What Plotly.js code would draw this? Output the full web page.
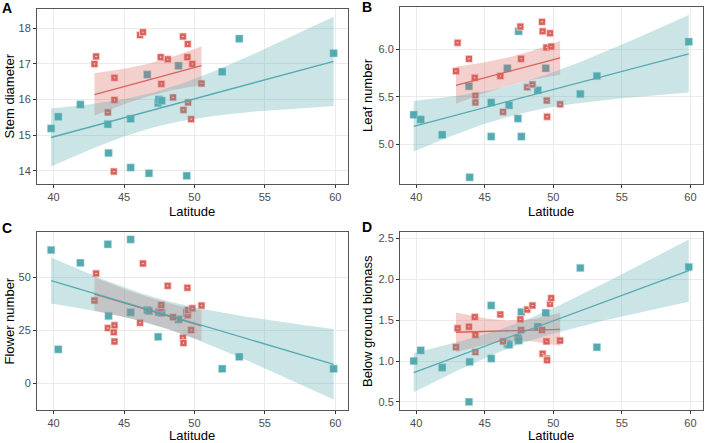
<!DOCTYPE html>
<html><head><meta charset="utf-8">
<script src="https://cdn.plot.ly/plotly-3.0.1.min.js"></script>
<style>html,body{margin:0;padding:0;background:#fff}#chart{width:708px;height:443px}</style>
</head><body><div id="chart"></div>
<script>
// ---- data ----
const tealLat = [39.82, 40.33, 41.90, 43.85, 43.90, 45.47, 45.47, 46.65, 46.77, 47.42, 47.47, 47.67, 48.87, 49.45, 51.97, 53.18, 59.88];
const tealStem = [15.19, 15.52, 15.86, 15.31, 14.50, 15.46, 14.09, 16.70, 13.93, 15.90, 16.00, 15.97, 16.95, 13.86, 16.78, 17.71, 17.30];
const tealLeaf = [5.31, 5.26, 5.10, 5.61, 4.65, 5.44, 5.08, 5.80, 5.41, 5.27, 6.19, 5.08, 5.57, 5.80, 5.53, 5.72, 6.08];
const tealFlower = [62.7, 16.0, 56.7, 65.4, 31.7, 67.7, 33.4, 34.5, 34.1, 21.9, 33.5, 33.2, 30.1, 33.2, 6.9, 12.5, 6.9];
const tealBiomass = [1.00, 1.13, 0.92, 0.50, 0.99, 1.68, 1.03, 1.21, 1.20, 1.28, 1.25, 1.60, 1.42, 1.59, 2.14, 1.17, 2.15];

const redLat = [42.90, 43.02, 43.85, 44.27, 44.32, 44.32, 46.14, 46.34, 47.60, 47.65, 48.10, 48.48, 49.18, 49.22, 49.50, 49.52, 49.55, 49.77, 49.85, 50.50];
const redStem = [17.00, 17.21, 15.64, 13.98, 16.61, 15.99, 17.81, 17.89, 17.19, 16.44, 17.13, 16.06, 17.77, 15.71, 17.19, 17.56, 15.92, 15.45, 17.00, 16.45];
const redLeaf = [5.77, 6.07, 5.90, 5.70, 5.51, 5.44, 5.72, 5.34, 6.24, 5.90, 5.60, 5.63, 6.29, 6.19, 6.02, 5.46, 5.29, 6.17, 6.03, 5.42];
const redFlower = [39.0, 51.7, 26.0, 24.1, 27.3, 19.7, 28.5, 56.4, 35.3, 36.9, 45.9, 31.1, 21.5, 19.0, 45.0, 32.1, 34.5, 25.1, 35.3, 36.6];
const redBiomass = [1.17, 1.40, 1.42, 1.54, 1.32, 1.11, 1.57, 1.24, 1.51, 1.38, 1.63, 1.68, 1.38, 1.09, 1.24, 1.03, 1.01, 1.70, 1.77, 1.25];

const panelLetters = ['A', 'B', 'C', 'D'];
const yTitles = ['Stem diameter', 'Leaf number', 'Flower number', 'Below ground biomass'];
const xTitle = 'Latitude';
const xTickVals = [40, 45, 50, 55, 60];
const yTickValsA = [14, 15, 16, 17, 18];
const yTickValsB = [5.0, 5.5, 6.0];
const yTickValsC = [0, 25, 50];
const yTickValsD = [0.5, 1.0, 1.5, 2.0, 2.5];
// model per panel: common slope (additive) for A-C, separate slopes for D
const panelModels = ['additive', 'additive', 'additive', 'interaction'];

// ---- styling ----
const TEAL = 'rgb(84,170,176)';
const RED = 'rgb(216,98,92)';
const TEAL_FILL = 'rgba(84,170,176,0.3)';
const RED_FILL = 'rgba(216,98,92,0.3)';
const FONT = 'Liberation Sans, Arial, Helvetica, sans-serif';
const tTable = {33: 2.0345, 34: 2.0322}; // 97.5% t quantiles

function invert(M) {
  const n = M.length;
  const A = M.map((r, i) => r.concat(Array.from({length: n}, (_, j) => (i === j ? 1 : 0))));
  for (let c = 0; c < n; c++) {
    let piv = c;
    for (let r = c + 1; r < n; r++) if (Math.abs(A[r][c]) > Math.abs(A[piv][c])) piv = r;
    [A[c], A[piv]] = [A[piv], A[c]];
    const d = A[c][c];
    for (let j = 0; j < 2 * n; j++) A[c][j] /= d;
    for (let r = 0; r < n; r++) if (r !== c) {
      const f = A[r][c];
      for (let j = 0; j < 2 * n; j++) A[r][j] -= f * A[c][j];
    }
  }
  return A.map(r => r.slice(n));
}

function fitModel(tx, ty, rx, ry, kind) {
  const row = (x, g) => kind === 'interaction' ? [1, g, x, g * x] : [1, g, x];
  const X = [], Y = [];
  tx.forEach((x, i) => { X.push(row(x, 0)); Y.push(ty[i]); });
  rx.forEach((x, i) => { X.push(row(x, 1)); Y.push(ry[i]); });
  const p = X[0].length, n = X.length;
  const XtX = Array.from({length: p}, (_, i) => Array.from({length: p}, (_, j) => X.reduce((s, r) => s + r[i] * r[j], 0)));
  const XtY = Array.from({length: p}, (_, i) => X.reduce((s, r, k) => s + r[i] * Y[k], 0));
  const inv = invert(XtX);
  const beta = inv.map(r => r.reduce((s, v, j) => s + v * XtY[j], 0));
  let sse = 0;
  X.forEach((r, k) => { const f = r.reduce((s, v, j) => s + v * beta[j], 0); sse += (Y[k] - f) ** 2; });
  const s2 = sse / (n - p);
  const t = tTable[n - p] || 2.03;
  const band = (gx, g) => {
    const xmin = Math.min(...gx), xmax = Math.max(...gx);
    const xs = [], fit = [], lo = [], hi = [];
    for (let k = 0; k < 80; k++) {
      const xv = xmin + (xmax - xmin) * k / 79;
      const x0 = row(xv, g);
      const f = x0.reduce((s, v, j) => s + v * beta[j], 0);
      let q = 0;
      for (let i = 0; i < p; i++) for (let j = 0; j < p; j++) q += x0[i] * inv[i][j] * x0[j];
      const se = Math.sqrt(s2 * q);
      xs.push(xv); fit.push(f); lo.push(f - t * se); hi.push(f + t * se);
    }
    return {xs, fit, lo, hi};
  };
  return {teal: band(tx, 0), red: band(rx, 1)};
}

const panels = [
  {teal: tealStem, red: redStem, ax: '', range: [13.63, 18.55], ticks: yTickValsA, fmt: 'd'},
  {teal: tealLeaf, red: redLeaf, ax: '2', range: [4.58, 6.45], ticks: yTickValsB, fmt: '.1f'},
  {teal: tealFlower, red: redFlower, ax: '3', range: [-12.5, 71.2], ticks: yTickValsC, fmt: 'd'},
  {teal: tealBiomass, red: redBiomass, ax: '4', range: [0.40, 2.58], ticks: yTickValsD, fmt: '.1f'}
];

const traces = [];
panels.forEach((p, pi) => {
  const xa = 'x' + p.ax, ya = 'y' + p.ax;
  traces.push({type: 'scatter', mode: 'markers', x: tealLat, y: p.teal, xaxis: xa, yaxis: ya,
    marker: {symbol: 'square', size: 7.5, color: TEAL, line: {width: 0.6, color: 'rgba(190,225,228,0.9)'}},
    hoverinfo: 'x+y', showlegend: false});
  traces.push({type: 'scatter', mode: 'markers', x: redLat, y: p.red, xaxis: xa, yaxis: ya,
    marker: {symbol: 'square-dot', size: 7, color: RED, line: {width: 0.8, color: 'rgba(255,225,222,0.95)'}},
    hoverinfo: 'x+y', showlegend: false});
  const m = fitModel(tealLat, p.teal, redLat, p.red, panelModels[pi]);
  [[m.red, RED, RED_FILL], [m.teal, TEAL, TEAL_FILL]].forEach(([r, col, fillc]) => {
    traces.push({type: 'scatter', mode: 'lines', x: r.xs.concat(r.xs.slice().reverse()),
      y: r.hi.concat(r.lo.slice().reverse()), xaxis: xa, yaxis: ya, fill: 'toself',
      fillcolor: fillc, line: {width: 0}, hoverinfo: 'skip', showlegend: false});
    traces.push({type: 'scatter', mode: 'lines', x: r.xs, y: r.fit, xaxis: xa, yaxis: ya,
      line: {color: col, width: 1.3}, hoverinfo: 'skip', showlegend: false});
  });
});

const W = 708, H = 443;
const dom = {
  '':  {x: [37 / W, 347.7 / W], y: [1 - 184 / H, 1 - 8.7 / H]},
  '2': {x: [400 / W, 702.5 / W], y: [1 - 184 / H, 1 - 6.7 / H]},
  '3': {x: [37 / W, 347.7 / W], y: [1 - 410 / H, 1 - 232 / H]},
  '4': {x: [400 / W, 702.5 / W], y: [1 - 410 / H, 1 - 232 / H]}
};

const layout = {
  width: W, height: H, margin: {l: 0, r: 0, t: 0, b: 0},
  paper_bgcolor: '#fff', plot_bgcolor: '#fff', showlegend: false,
  font: {family: FONT, size: 11, color: '#4d4d4d'},
  annotations: []
};
const axCommon = {
  showline: true, mirror: true, linecolor: '#555', linewidth: 1,
  ticks: 'outside', ticklen: 3, tickcolor: '#333', tickwidth: 1,
  showgrid: true, gridcolor: '#ebebeb', gridwidth: 1, zeroline: false,
  tickfont: {family: FONT, size: 11, color: '#4d4d4d'}, fixedrange: true
};
panels.forEach(p => {
  const d = dom[p.ax];
  layout['xaxis' + p.ax] = Object.assign({}, axCommon, {domain: d.x, anchor: 'y' + p.ax,
    range: [38.82, 60.88], tickvals: xTickVals});
  layout['yaxis' + p.ax] = Object.assign({}, axCommon, {domain: d.y, anchor: 'x' + p.ax,
    range: p.range, tickvals: p.ticks, tickformat: p.fmt});
});

const letterPos = [[7, 8], [366.5, 7.5], [7, 228], [366.5, 227]];
const yTitlePos = [[8.5, 96], [367, 95], [8.5, 321], [367, 321]];
const xTitlePos = [[192, 211], [551, 211], [192, 435.5], [551, 435]];
panelLetters.forEach((L, i) => {
  layout.annotations.push({text: '<b>' + L + '</b>', xref: 'paper', yref: 'paper',
    x: letterPos[i][0] / W, y: 1 - letterPos[i][1] / H, xanchor: 'center', yanchor: 'middle',
    showarrow: false, font: {family: FONT, size: 14, color: '#000'}});
  layout.annotations.push({text: yTitles[i], xref: 'paper', yref: 'paper', textangle: -90,
    x: yTitlePos[i][0] / W, y: 1 - yTitlePos[i][1] / H, xanchor: 'center', yanchor: 'middle',
    showarrow: false, font: {family: FONT, size: 13, color: '#000'}});
  layout.annotations.push({text: xTitle, xref: 'paper', yref: 'paper',
    x: xTitlePos[i][0] / W, y: 1 - xTitlePos[i][1] / H, xanchor: 'center', yanchor: 'middle',
    showarrow: false, font: {family: FONT, size: 13, color: '#000'}});
});

Plotly.newPlot('chart', traces, layout, {displayModeBar: false, staticPlot: true});
</script></body></html>
